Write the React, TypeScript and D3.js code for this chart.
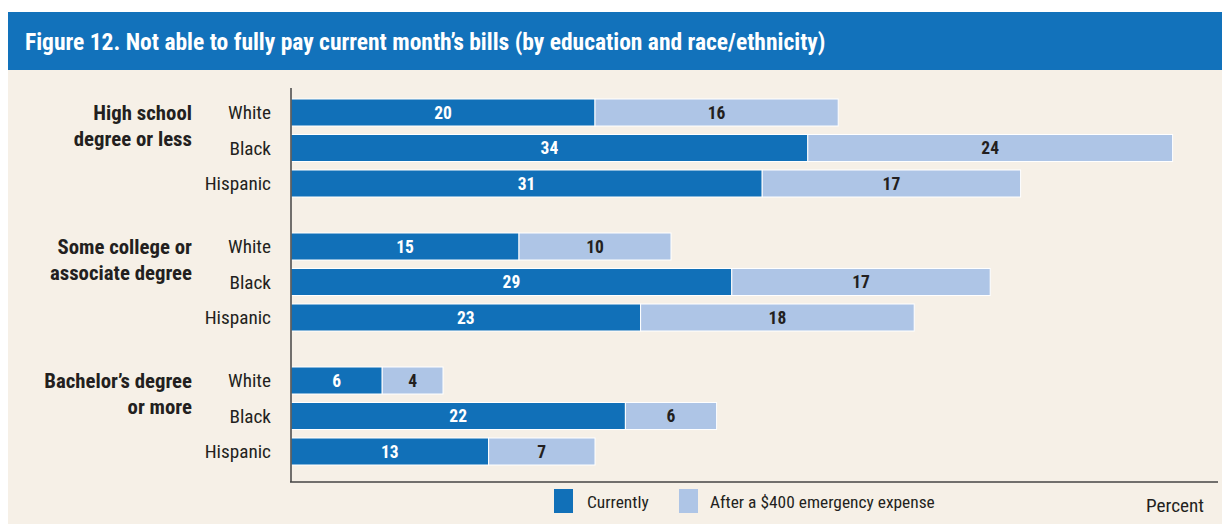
import React from "react";
import * as d3 from "d3";

const groups = ["High school|degree or less", "Some college or|associate degree", "Bachelor\u2019s degree|or more"];
const races = ["White", "Black", "Hispanic"];
// values per group, in race order
const currently = [
  [20, 34, 31],
  [15, 29, 23],
  [6, 22, 13],
];
const afterExpense = [
  [16, 24, 17],
  [10, 17, 18],
  [4, 6, 7],
];
const seriesNames = ["Currently", "After a $400 emergency expense"];

const W = 1222;
const H = 524;
const FONT = "'Liberation Sans Narrow', 'Roboto Condensed', 'Arial Narrow', Roboto, sans-serif";
const DARK = "#1170b8";
const LIGHT = "#aec5e6";
const BG = "#f6f0e7";
const TEXT = "#231f20";

const App = () => {
  const x = d3.scaleLinear().domain([0, 60]).range([291, 1203]);
  const gy = d3.scalePoint<string>().domain(groups).range([148, 416]);
  const ry = d3.scalePoint<string>().domain(races).range([-35.5, 35.5]);
  const barH = 27;

  return (
    <svg width={W} height={H} style={{ display: "block", position: "absolute", left: 0, top: 0 }} fontFamily={FONT}>
      <rect x={0} y={0} width={W} height={H} fill="#fff" />
      <rect x={8} y={70} width={W - 8} height={H - 70} fill={BG} />
      <rect x={8} y={12} width={W - 8} height={58} fill="#1272bb" />
      <text x={25} y={50} fill="#fff" fontSize={23.5} fontWeight="bold">
        Figure 12. Not able to fully pay current month’s bills (by education and race/ethnicity)
      </text>

      {groups.map((g, gi) => {
        const cy = gy(g)!;
        const lines = g.split("|");
        return (
          <g key={g}>
            {lines.map((l, li) => (
              <text key={l} x={192} y={cy - 35.5 + li * 26 + 7} textAnchor="end" fontSize={20.8} fontWeight="bold" fill={TEXT}>
                {l}
              </text>
            ))}
            {races.map((r, ri) => {
              const y = cy + ry(r)!;
              const a = currently[gi][ri];
              const b = afterExpense[gi][ri];
              return (
                <g key={r}>
                  <text x={271} y={y + 6.5} textAnchor="end" fontSize={19.2} fill={TEXT}>
                    {r}
                  </text>
                  <rect x={x(0)} y={y - barH / 2} width={x(a) - x(0)} height={barH} fill={DARK} stroke="#fff" strokeWidth={1} />
                  <rect x={x(a)} y={y - barH / 2} width={x(a + b) - x(a)} height={barH} fill={LIGHT} stroke="#fff" strokeWidth={1} />
                  <text x={(x(0) + x(a)) / 2} y={y + 6} textAnchor="middle" fontSize={17.5} fontWeight="bold" fill="#fff">
                    {a}
                  </text>
                  <text x={(x(a) + x(a + b)) / 2} y={y + 6} textAnchor="middle" fontSize={17.5} fontWeight="bold" fill={TEXT}>
                    {b}
                  </text>
                </g>
              );
            })}
          </g>
        );
      })}

      <line x1={291} x2={291} y1={88} y2={482} stroke="#444" strokeWidth={1.5} />
      <line x1={290} x2={1218} y1={482} y2={482} stroke="#444" strokeWidth={1.5} />

      <rect x={554} y={489} width={19} height={24} fill={DARK} />
      <text x={587} y={508} fontSize={17.4} fill={TEXT}>{seriesNames[0]}</text>
      <rect x={679} y={489} width={19} height={24} fill={LIGHT} />
      <text x={710} y={508} fontSize={17.4} fill={TEXT}>{seriesNames[1]}</text>
      <text x={1204} y={512} textAnchor="end" fontSize={19.2} fill={TEXT}>Percent</text>
    </svg>
  );
};

export default App;
